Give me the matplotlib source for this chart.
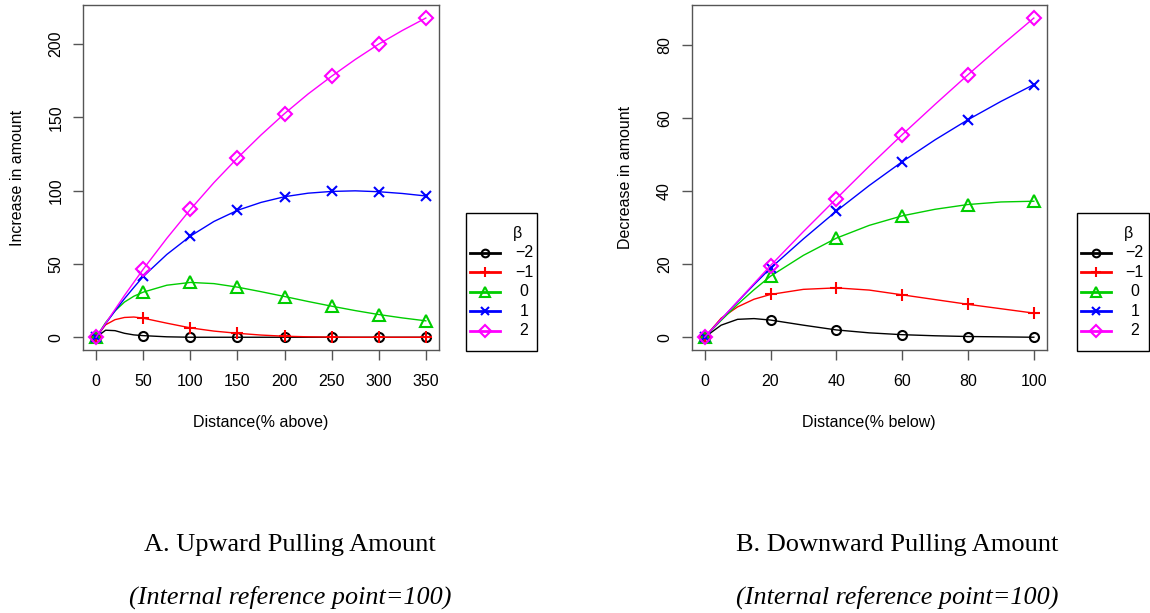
import numpy as np
import matplotlib.pyplot as plt
from matplotlib.lines import Line2D
from matplotlib.patches import Rectangle

plt.rcParams['font.family'] = ['Liberation Sans', 'DejaVu Sans']

# beta values and styles
betas = ['\u22122', '\u22121', '0', '1', '2']
colors = ['black', '#FF0000', '#00CD00', '#0000FF', '#FF00FF']
markers = ['o', '+', '^', 'x', 'D']
msizes = [6.5, 9, 8, 7.5, 7]

# A. upward pulling (markers)
up_x = [0, 50, 100, 150, 200, 250, 300, 350]
up_m2 = [0, 1.1, 0, 0, 0, 0, 0, 0]
up_m1 = [0, 13.0, 6.4, 2.7, 0.7, 0, 0, 0]
up_0 = [0, 30.8, 37.4, 34.2, 27.8, 21.2, 15.5, 11.2]
up_1 = [0, 41.5, 69.0, 86.6, 95.9, 99.5, 99.3, 96.4]
up_2 = [0, 46.5, 87.2, 122.3, 152.6, 178.1, 200.0, 217.8]

# A. smooth curves
upc_x = [0, 10, 20, 30, 40, 50, 75, 100, 125, 150, 175, 200, 225, 250, 275, 300, 325, 350]
upc_m2 = [0, 4.8, 4.5, 2.7, 1.6, 1.1, 0.3, 0, 0, 0, 0, 0, 0, 0, 0, 0, 0, 0]
upc_m1 = [0, 8.5, 12.0, 13.5, 13.8, 13.0, 9.6, 6.4, 4.2, 2.7, 1.5, 0.7, 0.3, 0.1, 0, 0, 0, 0]
upc_0 = [0, 10.0, 18.0, 24.0, 28.0, 30.8, 35.5, 37.4, 36.6, 34.2, 31.1, 27.8, 24.4, 21.2, 18.2, 15.5, 13.2, 11.2]
upc_1 = [0, 9.2, 18.0, 26.3, 34.0, 41.5, 56.5, 69.0, 79.0, 86.6, 92.0, 95.9, 98.3, 99.5, 99.9, 99.3, 98.1, 96.4]
upc_2 = [0, 9.5, 19.0, 28.5, 37.5, 46.5, 67.5, 87.2, 105.5, 122.3, 138.0, 152.6, 166.0, 178.1, 189.5, 200.0, 209.3, 217.8]

# B. downward pulling (markers)
dn_x = [0, 20, 40, 60, 80, 100]
dn_m2 = [0, 4.7, 2.0, 0.7, 0.2, 0]
dn_m1 = [0, 11.7, 13.5, 11.6, 9.0, 6.6]
dn_0 = [0, 16.7, 27.1, 33.2, 36.3, 37.2]
dn_1 = [0, 18.9, 34.5, 48.0, 59.5, 69.1]
dn_2 = [0, 19.6, 37.9, 55.4, 71.8, 87.3]

# B. smooth curves
dnc_x = [0, 5, 10, 15, 20, 30, 40, 50, 60, 70, 80, 90, 100]
dnc_m2 = [0, 3.3, 4.9, 5.1, 4.7, 3.3, 2.0, 1.2, 0.7, 0.4, 0.2, 0.1, 0]
dnc_m1 = [0, 5.2, 8.3, 10.4, 11.7, 13.1, 13.5, 12.9, 11.6, 10.3, 9.0, 7.8, 6.6]
dnc_0 = [0, 4.6, 9.0, 13.0, 16.7, 22.4, 27.1, 30.6, 33.2, 35.0, 36.3, 37.0, 37.2]
dnc_1 = [0, 4.9, 9.7, 14.4, 18.9, 26.9, 34.5, 41.5, 48.0, 54.0, 59.5, 64.5, 69.1]
dnc_2 = [0, 4.9, 9.8, 14.7, 19.6, 28.9, 37.9, 46.8, 55.4, 63.7, 71.8, 79.7, 87.3]

W, H = 1150, 613
fig = plt.figure(figsize=(W / 100, H / 100), dpi=100)


def fx(x):
    return x / W


def fy(y):
    return 1 - y / H


def px_axes(x0, x1, y0, y1):
    return fig.add_axes([fx(x0), fy(y1), (x1 - x0) / W, (y1 - y0) / H])


def draw_legend(x0, y0, x1, y1):
    # R style legend box drawn in figure pixels
    fig.add_artist(Rectangle((fx(x0), fy(y1)), (x1 - x0) / W, (y1 - y0) / H,
                             transform=fig.transFigure, fill=False, ec='black', lw=1))
    fig.text(fx(x0 + 52), fy(y0 + 20), '\u03b2', fontsize=11.5, ha='center', va='center')
    for i in range(5):
        yy = fy(y0 + 39 + 19.6 * i)
        fig.add_artist(Line2D([fx(x0 + 4), fx(x0 + 19), fx(x0 + 34)], [yy, yy, yy],
                              transform=fig.transFigure, color=colors[i], lw=2,
                              marker=markers[i], markevery=[1], ms=msizes[i] * 0.85,
                              mfc='none', mec=colors[i], mew=1.5))
        fig.text(fx(x0 + 58), yy, betas[i], fontsize=11.5, ha='center', va='center')


def panel(ax, mx, mys, cx, cys, xlim, ylim, xticks, yticks, xlabel, ylabel):
    for i in range(5):
        ax.plot(cx, cys[i], color=colors[i], lw=1)
        ax.plot(mx, mys[i], linestyle='none', marker=markers[i], ms=msizes[i],
                mfc='none', mec=colors[i], mew=1.5)
    ax.set_xlim(xlim)
    ax.set_ylim(ylim)
    ax.set_xticks(xticks)
    ax.set_yticks(yticks)
    ax.tick_params(length=7, width=1, color='#555555', labelsize=11.5)
    ax.tick_params(axis='x', pad=10)
    ax.tick_params(axis='y', pad=7)
    for lab in ax.get_yticklabels():
        lab.set_rotation(90)
        lab.set_va('center')
    for s in ax.spines.values():
        s.set_color('#555555')
        s.set_linewidth(1)
    ax.set_xlabel(xlabel, fontsize=11.5, labelpad=19)
    ax.set_ylabel(ylabel, fontsize=11.5, labelpad=17)


axA = px_axes(83, 439, 5.3, 350)
panel(axA, up_x, [up_m2, up_m1, up_0, up_1, up_2], upc_x,
      [upc_m2, upc_m1, upc_0, upc_1, upc_2], (-14, 364), (-8.7, 226.5),
      up_x, [0, 50, 100, 150, 200], 'Distance(% above)', 'Increase in amount')
draw_legend(466, 213.5, 537, 350.5)

axB = px_axes(691.5, 1047, 5.3, 350)
panel(axB, dn_x, [dn_m2, dn_m1, dn_0, dn_1, dn_2], dnc_x,
      [dnc_m2, dnc_m1, dnc_0, dnc_1, dnc_2], (-4, 104), (-3.49, 90.79),
      dn_x, [0, 20, 40, 60, 80], 'Distance(% below)', 'Decrease in amount')
draw_legend(1076.7, 213.5, 1148.7, 350.5)

serif = 'Liberation Serif'
fig.text(fx(290), fy(545), 'A. Upward Pulling Amount', family=serif,
         fontsize=19, ha='center', va='center')
fig.text(fx(290), fy(597), '(Internal reference point=100)', family=serif,
         style='italic', fontsize=18.8, ha='center', va='center')
fig.text(fx(897), fy(545), 'B. Downward Pulling Amount', family=serif,
         fontsize=19, ha='center', va='center')
fig.text(fx(897), fy(597), '(Internal reference point=100)', family=serif,
         style='italic', fontsize=18.8, ha='center', va='center')

fig.savefig('out.png', dpi=100)
